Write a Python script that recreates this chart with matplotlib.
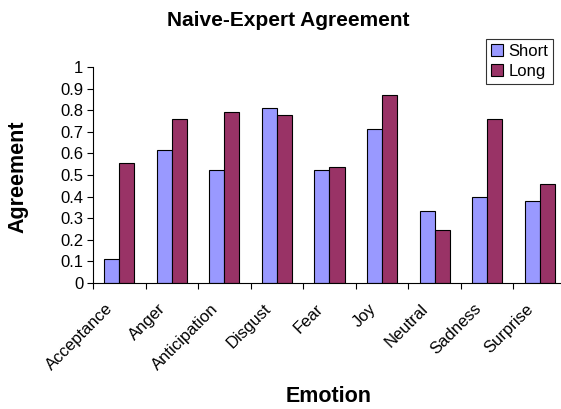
import numpy as np
import matplotlib
matplotlib.use("Agg")
import matplotlib.pyplot as plt
import matplotlib.transforms as mtransforms
from matplotlib.patches import Patch

plt.rcParams['font.family'] = ['Liberation Sans', 'DejaVu Sans']

#%% data
emotions = ["Acceptance", "Anger", "Anticipation", "Disgust", "Fear",
            "Joy", "Neutral", "Sadness", "Surprise"]
short_vals = [0.11, 0.618, 0.524, 0.81, 0.524, 0.712, 0.334, 0.397, 0.38]
long_vals = [0.555, 0.76, 0.793, 0.776, 0.539, 0.872, 0.246, 0.76, 0.459]

short_color = "#9999FF"
long_color = "#993366"

#%% figure
W, H = 561, 409
fig = plt.figure(figsize=(W / 100, H / 100), dpi=100)
# excel plot area is cut off on the right, so axes go past the figure edge
ax = fig.add_axes([93 / W, (H - 283) / H, 473 / W, 216 / H])

x = np.arange(len(emotions)) + 0.5
bw = 1 / 3.5
ax.bar(x - bw / 2, short_vals, bw, color=short_color, edgecolor="black", linewidth=0.8)
ax.bar(x + bw / 2, long_vals, bw, color=long_color, edgecolor="black", linewidth=0.8)

ax.set_xlim(0, len(emotions))
ax.set_ylim(0, 1)
ax.set_yticks(np.arange(0, 1.01, 0.1))
ax.set_yticklabels(["0"] + ["%.1f" % v for v in np.arange(0.1, 0.95, 0.1)] + ["1"])
ax.tick_params(axis="y", direction="out", length=4, width=0.8, labelsize=12, pad=3)

# ticks between categories, labels at category centres
ax.set_xticks(np.arange(0, len(emotions) + 1))
ax.set_xticklabels([])
ax.tick_params(axis="x", which="major", direction="out", length=4, width=0.8)
ax.set_xticks(x, minor=True)
ax.set_xticklabels(emotions, minor=True, rotation=45, ha="right", va="top",
                   rotation_mode="anchor", fontsize=12)
ax.tick_params(axis="x", which="minor", length=0, pad=5)
# nudge rotated labels down-left like excel does
offset = mtransforms.ScaledTranslation(-10 / 72, -8 / 72, fig.dpi_scale_trans)
for lab in ax.get_xticklabels(minor=True):
    lab.set_transform(lab.get_transform() + offset)

for s in ["top", "right"]:
    ax.spines[s].set_visible(False)
for s in ["left", "bottom"]:
    ax.spines[s].set_linewidth(0.8)

fig.text(288 / W, 1 - 20 / H, "Naive-Expert Agreement", ha="center", va="center",
         fontsize=15, fontweight="bold")
fig.text(18 / W, 1 - 177 / H, "Agreement", ha="center", va="center", rotation=90,
         fontsize=15.5, fontweight="bold")
fig.text(329 / W, 1 - 397 / H, "Emotion", ha="center", va="center",
         fontsize=15.5, fontweight="bold")

handles = [Patch(facecolor=short_color, edgecolor="black", linewidth=0.8, label="Short"),
           Patch(facecolor=long_color, edgecolor="black", linewidth=0.8, label="Long")]
leg = fig.legend(handles=handles, loc="upper right", bbox_to_anchor=(553 / W, 1 - 39 / H),
                 fontsize=12, frameon=True, fancybox=False, handlelength=0.7,
                 handleheight=0.7, handletextpad=0.3, borderpad=0.3, labelspacing=0.3,
                 borderaxespad=0)
leg.get_frame().set_edgecolor("black")
leg.get_frame().set_linewidth(0.8)

fig.savefig("out.png", dpi=100)
